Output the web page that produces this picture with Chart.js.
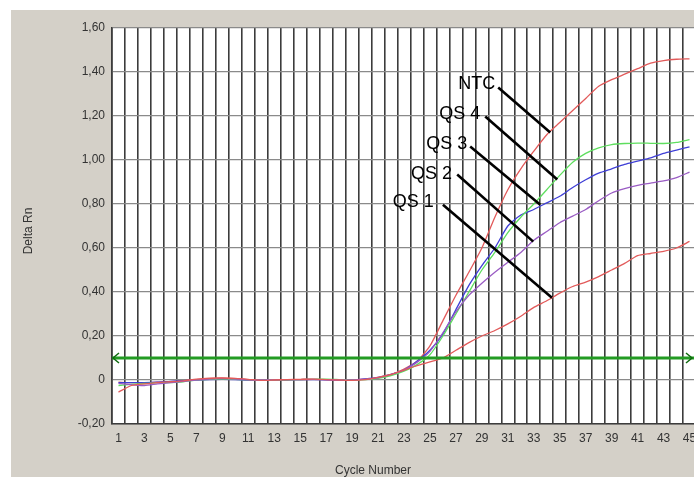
<!DOCTYPE html>
<html><head><meta charset="utf-8">
<script src="https://cdn.jsdelivr.net/npm/chart.js@4.4.1/dist/chart.umd.min.js"></script>
<style>
html,body{margin:0;padding:0;background:#fff;overflow:hidden;width:694px;height:477px}
#wrap{position:absolute;left:0;top:0;width:712px;height:477px}
</style></head>
<body><div id="wrap"><canvas id="c" width="712" height="477"></canvas></div>
<script>
// ---- data ----
const cycles = [1,2,3,4,5,6,7,8,9,10,11,12,13,14,15,16,17,18,19,20,21,22,23,24,25,26,27,28,29,30,31,32,33,34,35,36,37,38,39,40,41,42,43,44,45];
const ntc = [-0.01,-0.012,-0.012,-0.01,-0.008,-0.004,0.002,0.006,0.008,0.006,0.002,0.0,0.0,0.001,0.002,0.003,0.002,0.0,0.0,0.004,
  0.01,0.025,0.05,0.085,0.155,0.27,0.385,0.49,0.60,0.74,0.865,0.96,1.04,1.115,1.17,1.225,1.28,1.335,1.365,1.39,1.415,1.44,1.452,1.458,1.46];
const qs4 = [-0.025,-0.02,-0.016,-0.012,-0.012,-0.008,0.0,0.003,0.004,0.003,0.001,0.0,0.0,0.001,0.002,0.003,0.004,0.002,0.0,0.002,
  0.008,0.02,0.04,0.07,0.115,0.20,0.30,0.40,0.50,0.58,0.67,0.74,0.80,0.865,0.93,0.99,1.03,1.055,1.07,1.075,1.077,1.076,1.075,1.08,1.093];
const qs3 = [-0.012,-0.012,-0.012,-0.01,-0.006,-0.003,0.0,0.002,0.003,0.002,0.0,0.0,0.0,0.001,0.002,0.002,0.001,0.0,0.0,0.005,
  0.012,0.025,0.045,0.085,0.135,0.21,0.32,0.43,0.52,0.60,0.70,0.75,0.775,0.805,0.835,0.875,0.91,0.94,0.96,0.98,0.995,1.01,1.03,1.045,1.06];
const qs2 = [-0.015,-0.022,-0.025,-0.018,-0.012,-0.006,0.0,0.004,0.006,0.004,0.001,0.0,0.001,0.002,0.002,0.003,0.002,0.0,0.0,0.004,
  0.01,0.025,0.045,0.08,0.13,0.215,0.31,0.385,0.44,0.49,0.535,0.58,0.635,0.675,0.715,0.745,0.775,0.815,0.85,0.87,0.885,0.895,0.905,0.92,0.945];
const qs1 = [-0.055,-0.025,-0.018,-0.012,-0.008,-0.004,0.004,0.008,0.009,0.007,0.003,-0.002,0.0,0.002,0.003,0.004,0.002,0.0,-0.002,0.002,
  0.012,0.025,0.045,0.065,0.082,0.10,0.135,0.17,0.20,0.225,0.255,0.29,0.33,0.36,0.395,0.425,0.445,0.47,0.50,0.53,0.565,0.575,0.585,0.60,0.63];
const threshold = 0.1;
const yTickLabels = ['-0,20','0','0,20','0,40','0,60','0,80','1,00','1,20','1,40','1,60'];
const calloutLabels = ['NTC','QS 4','QS 3','QS 2','QS 1'];
// label anchor (cycle, value) and pointer line start/end (cycle, value)
const calloutText  = [[30.03,1.344],[28.87,1.207],[27.87,1.071],[26.7,0.938],[25.3,0.811]];
const calloutStart = [[30.26,1.33],[29.26,1.198],[28.1,1.061],[27.1,0.934],[26.0,0.797]];
const calloutEnd   = [[34.27,1.125],[34.81,0.911],[33.5,0.797],[32.96,0.629],[34.4,0.374]];

const FONT = "'Liberation Sans', Arial, sans-serif";

const deco = {
  id: 'deco',
  beforeDraw(chart){
    const {ctx, chartArea:a, width, height} = chart;
    ctx.save();
    ctx.fillStyle = '#ffffff'; ctx.fillRect(0,0,width,height);
    ctx.fillStyle = '#d4d0c8'; ctx.fillRect(11,10,width-11,height-10);
    ctx.fillStyle = '#ffffff'; ctx.fillRect(a.left,a.top,a.right-a.left,a.bottom-a.top);
    ctx.restore();
  },
  afterDatasetsDraw(chart){
    const {ctx, chartArea:a, scales:{x,y}} = chart;
    ctx.save();
    // threshold line
    const ty = y.getPixelForValue(threshold);
    ctx.strokeStyle = '#239b23'; ctx.lineWidth = 3;
    ctx.beginPath(); ctx.moveTo(a.left, ty); ctx.lineTo(a.right, ty); ctx.stroke();
    ctx.strokeStyle = '#0f6a0f'; ctx.lineWidth = 1.5;
    const lx = a.left + 1, rx = 692;
    ctx.beginPath(); ctx.moveTo(lx+6, ty-5); ctx.lineTo(lx, ty); ctx.lineTo(lx+6, ty+5); ctx.stroke();
    ctx.beginPath(); ctx.moveTo(rx-6, ty-5); ctx.lineTo(rx, ty); ctx.lineTo(rx-6, ty+5); ctx.stroke();
    // callouts
    ctx.fillStyle = '#000'; ctx.strokeStyle = '#000'; ctx.lineWidth = 2.6; ctx.lineCap = 'butt';
    ctx.font = '18px ' + FONT; ctx.textAlign = 'right'; ctx.textBaseline = 'middle';
    for (let i = 0; i < calloutLabels.length; i++) {
      const t = calloutText[i], s = calloutStart[i], e = calloutEnd[i];
      ctx.fillText(calloutLabels[i], x.getPixelForValue(t[0]-1), y.getPixelForValue(t[1]));
      ctx.beginPath();
      ctx.moveTo(x.getPixelForValue(s[0]-1), y.getPixelForValue(s[1]));
      ctx.lineTo(x.getPixelForValue(e[0]-1), y.getPixelForValue(e[1]));
      ctx.stroke();
    }
    ctx.restore();
  },
  afterDraw(chart){
    const {ctx, chartArea:a} = chart;
    ctx.save();
    ctx.fillStyle = '#333'; ctx.font = '12px ' + FONT;
    ctx.textAlign = 'center'; ctx.textBaseline = 'middle';
    ctx.fillText('Cycle Number', 373, 471);
    ctx.translate(29, (a.top + a.bottom)/2 + 5);
    ctx.rotate(-Math.PI/2);
    ctx.fillText('Delta Rn', 0, 0);
    ctx.restore();
  }
};

const mk = (label, data, color) => ({label, data, borderColor: color, borderWidth: 1.3, pointRadius: 0, tension: 0.2, fill: false});

new Chart(document.getElementById('c'), {
  type: 'line',
  data: {
    labels: cycles,
    datasets: [
      mk('QS 1', qs1, '#e25a5a'),
      mk('QS 2', qs2, '#9a5cc4'),
      mk('QS 4', qs4, '#5ede5e'),
      mk('QS 3', qs3, '#3f3fd6'),
      mk('NTC', ntc, '#e25a5a')
    ]
  },
  options: {
    responsive: false,
    animation: false,
    devicePixelRatio: 1,
    layout: {padding: {left: 11, top: 28, right: 16, bottom: 0}},
    plugins: {legend: {display: false}, tooltip: {enabled: false}},
    scales: {
      x: {
        type: 'category',
        offset: true,
        grid: {offset: true, color: '#3c3c3c', lineWidth: 1.6, drawTicks: false},
        border: {color: '#3c3c3c', width: 1.6},
        ticks: {
          autoSkip: false, maxRotation: 0, padding: 7, color: '#333',
          font: {family: FONT, size: 12},
          callback: (v, i) => (i % 2 === 0 ? String(cycles[i]) : '')
        },
        afterFit: s => { s.height = 53; }
      },
      y: {
        min: -0.2, max: 1.6,
        grid: {color: '#8a8a8a', lineWidth: 1.2, drawTicks: false},
        border: {color: '#3c3c3c', width: 1.6},
        ticks: {
          stepSize: 0.2, padding: 7, color: '#333',
          font: {family: FONT, size: 12},
          callback: (v, i) => yTickLabels[i]
        },
        afterFit: s => { s.width = 101; }
      }
    }
  },
  plugins: [deco]
});
</script>
</body></html>
